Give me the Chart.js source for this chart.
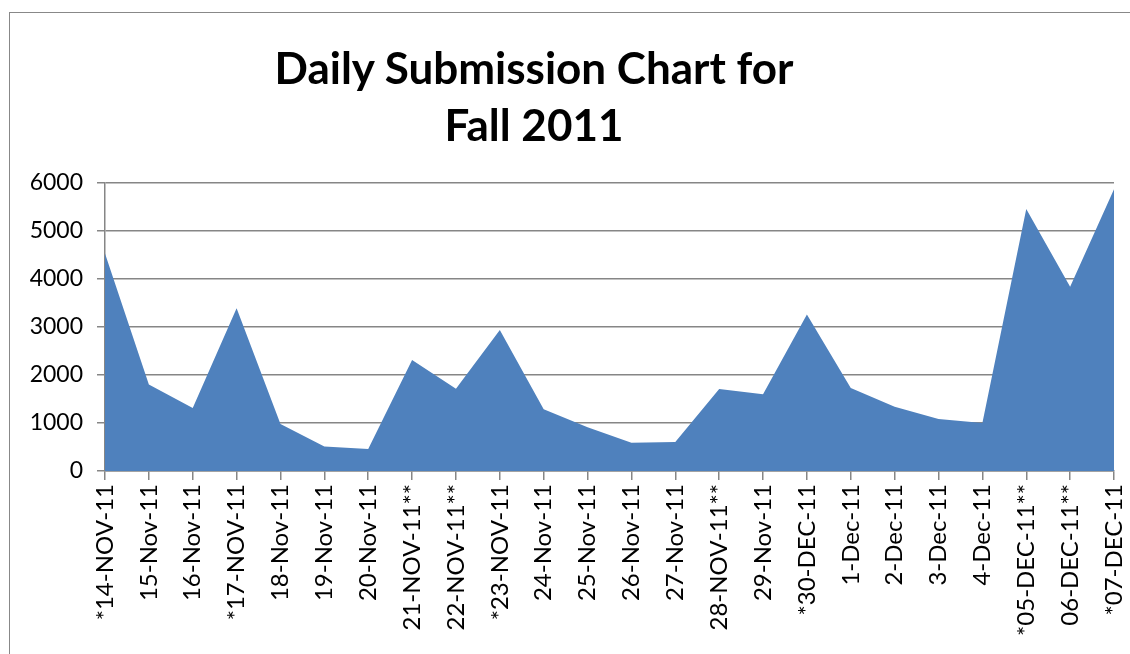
<!DOCTYPE html>
<html>
<head>
<meta charset="utf-8">
<script src="https://cdn.jsdelivr.net/npm/chart.js@4.4.0/dist/chart.umd.min.js"></script>
<style>
    body { margin: 0; background: #fff; }
    #wrap { position: relative; width: 1130px; height: 654px; overflow: hidden; }
    #frame { position: absolute; left: 9px; top: 12px; width: 1200px; height: 700px; border: 1px solid #888; }
    #title {
        position: absolute; left: 184px; top: 39px; width: 700px;
        text-align: center; font-family: Lato, sans-serif; font-weight: bold;
        font-size: 44px; line-height: 57px; color: #000;
    }
    canvas { position: absolute; left: 0; top: 0; }
</style>
</head>
<body>
<div id="wrap">
    <div id="frame"></div>
    <canvas id="chart" width="1130" height="654"></canvas>
    <div id="title">Daily Submission Chart for<br>Fall 2011</div>
</div>
<script>
// Categories (dates as labelled on the axis)
const days = [
    '*14-NOV-11', '15-Nov-11', '16-Nov-11', '*17-NOV-11', '18-Nov-11', '19-Nov-11',
    '20-Nov-11', '21-NOV-11**', '22-NOV-11**', '*23-NOV-11', '24-Nov-11', '25-Nov-11',
    '26-Nov-11', '27-Nov-11', '28-NOV-11**', '29-Nov-11', '*30-DEC-11', '1-Dec-11',
    '2-Dec-11', '3-Dec-11', '4-Dec-11', '*05-DEC-11**', '06-DEC-11**', '*07-DEC-11'
];

// Submissions per day
const submissions = [
    4530, 1800, 1310, 3390, 980, 510,
    460, 2310, 1715, 2940, 1285, 910,
    590, 605, 1710, 1600, 3260, 1730,
    1340, 1085, 1000, 5460, 3840, 5870
];

// Y axis ticks
const yMin = 0;
const yMax = 6000;
const yStep = 1000;

const ctx = document.getElementById('chart').getContext('2d');
new Chart(ctx, {
    type: 'line',
    data: {
        labels: days,
        datasets: [{
            label: 'Submissions',
            data: submissions,
            fill: 'origin',
            backgroundColor: '#4F81BD',
            borderColor: '#4F81BD',
            borderWidth: 0,
            pointRadius: 0,
            tension: 0
        }]
    },
    options: {
        responsive: false,
        animation: false,
        layout: { padding: { top: 183, right: 16, left: 0, bottom: 0 } },
        plugins: {
            legend: { display: false },
            tooltip: { enabled: false }
        },
        scales: {
            x: {
                offset: false,
                afterFit: (scale) => {
                    scale.height = 183;
                    scale.paddingLeft = 0;
                    scale.paddingRight = 0;
                },
                grid: {
                    drawOnChartArea: false,
                    color: '#868686',
                    tickLength: 9,
                    lineWidth: 1.5
                },
                border: { color: '#868686', width: 1.5 },
                ticks: {
                    color: '#000',
                    font: { family: 'Lato, sans-serif', size: 24 },
                    maxRotation: 90,
                    minRotation: 90,
                    autoSkip: false,
                    padding: 4
                }
            },
            y: {
                min: yMin,
                max: yMax,
                afterFit: (scale) => { scale.width = 105; },
                grid: {
                    color: '#868686',
                    lineWidth: 1.5,
                    tickLength: 8
                },
                border: { color: '#868686', width: 1.5 },
                ticks: {
                    stepSize: yStep,
                    color: '#000',
                    font: { family: 'Lato, sans-serif', size: 23 },
                    padding: 14,
                    callback: (v) => String(v)
                }
            }
        }
    }
});
</script>
</body>
</html>
